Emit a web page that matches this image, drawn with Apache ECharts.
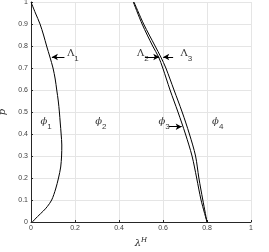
<!DOCTYPE html>
<html><head><meta charset="utf-8">
<script src="https://cdn.jsdelivr.net/npm/echarts@6/dist/echarts.min.js"></script>
<style>html,body{margin:0;padding:0;background:#fff}#c{width:269px;height:252px}</style>
</head><body><div id="c"></div>
<script>
// Curve Λ1: [λ^H, p]
const lambda1 = [[0.0,1.0],[0.02,0.95],[0.041,0.9],[0.057,0.85],[0.071,0.8],[0.086,0.75],[0.1,0.7],[0.11,0.65],[0.117,0.6],[0.124,0.55],[0.129,0.5],[0.133,0.45],[0.137,0.4],[0.14,0.35],[0.139,0.3],[0.135,0.25],[0.125,0.2],[0.112,0.15],[0.094,0.1],[0.074,0.07],[0.056,0.05],[0.03,0.025],[0.006,0.0]];
// Curve Λ2 (left of the pair)
const lambda2 = [[0.465,1.0],[0.505,0.9],[0.553,0.8],[0.58,0.75],[0.599,0.7],[0.632,0.6],[0.668,0.5],[0.702,0.4],[0.732,0.3],[0.753,0.2],[0.773,0.1],[0.8,0.0]];
// Curve Λ3 (right of the pair)
const lambda3 = [[0.468,1.0],[0.512,0.9],[0.564,0.8],[0.59,0.75],[0.613,0.7],[0.65,0.6],[0.687,0.5],[0.72,0.4],[0.748,0.3],[0.763,0.2],[0.781,0.1],[0.8,0.0]];
// Tick labels
const xTicks = [0, 0.2, 0.4, 0.6, 0.8, 1];
const yTicks = [0, 0.1, 0.2, 0.3, 0.4, 0.5, 0.6, 0.7, 0.8, 0.9, 1];
// Annotation texts: [λ, p, main, subscript, italic]
const labels = [[0.162,0.757,'Λ','1',0],[0.48,0.757,'Λ','2',0],[0.677,0.757,'Λ','3',0],[0.041,0.447,'ϕ','1',1],[0.29,0.447,'ϕ','2',1],[0.577,0.447,'ϕ','3',1],[0.821,0.447,'ϕ','4',1]];
// Arrows: [fromλ, fromp, toλ, top]
const arrows = [[0.152,0.75,0.095,0.75],[0.518,0.75,0.583,0.75],[0.646,0.75,0.601,0.75],[0.627,0.433,0.685,0.433]];

const chart = echarts.init(document.getElementById('c'), null, {renderer:'canvas'});
const axisCommon = {
  min:0, max:1,
  axisLine:{show:true, lineStyle:{color:'#262626', width:1}},
  axisTick:{show:true, inside:true, length:2, lineStyle:{color:'#262626'}},
  splitLine:{show:true, lineStyle:{color:'#e5e5e5', width:1}},
  axisLabel:{fontSize:7, color:'#404040', fontFamily:'Liberation Sans, Arial, sans-serif', margin:3,
    formatter:v=>String(Math.round(v*10)/10)}
};
const lineStyle = {color:'#000', width:1};
chart.setOption({
  animation:false,
  grid:{left:31, top:2, width:220, height:220, containLabel:false, outerBoundsMode:'none'},
  xAxis:Object.assign({}, axisCommon, {type:'value', interval:0.2,
    name:'{l|λ}{s|H}', nameLocation:'middle', nameGap:10,
    nameTextStyle:{rich:{
      l:{fontSize:10, fontFamily:'DejaVu Serif, serif', fontStyle:'italic', color:'#262626', verticalAlign:'bottom', lineHeight:12},
      s:{fontSize:7, fontFamily:'DejaVu Serif, serif', fontStyle:'italic', color:'#262626', verticalAlign:'top', lineHeight:12}
    }}}),
  yAxis:Object.assign({}, axisCommon, {type:'value', interval:0.1,
    name:'p', nameLocation:'middle', nameGap:17, nameRotate:90,
    nameTextStyle:{fontSize:10, fontFamily:'DejaVu Serif, serif', fontStyle:'italic', color:'#262626'}}),
  series:[
    {type:'line', data:lambda1, smooth:0.3, showSymbol:false, lineStyle, z:3},
    {type:'line', data:lambda2, smooth:0.3, showSymbol:false, lineStyle, z:3},
    {type:'line', data:lambda3, smooth:0.3, showSymbol:false, lineStyle, z:3,
      markLine:{silent:true, symbol:['none','arrow'], symbolSize:[5,6], label:{show:false},
        lineStyle:{color:'#000', width:1, type:'solid'},
        data:arrows.map(a=>[{coord:[a[0],a[1]]},{coord:[a[2],a[3]]}])}},
    {type:'scatter', symbol:'circle', symbolSize:1, itemStyle:{color:'rgba(0,0,0,0)'}, z:4,
      data:labels.map(l=>({value:[l[0],l[1]], main:l[2], sub:l[3], it:l[4]})),
      label:{show:true, position:'right', distance:0,
        formatter:p=>'{'+(p.data.it?'mi':'m')+'|'+p.data.main+'}{s|'+p.data.sub+'}',
        rich:{
          m:{fontSize:10, color:'#000', fontFamily:'DejaVu Serif, serif', verticalAlign:'top', lineHeight:15},
          mi:{fontSize:10, color:'#000', fontFamily:'DejaVu Serif, serif', fontStyle:'italic', verticalAlign:'top', lineHeight:15},
          s:{fontSize:8, color:'#000', fontFamily:'Liberation Sans, Arial, sans-serif', verticalAlign:'bottom', lineHeight:15}
        }}}
  ]
});
</script></body></html>
